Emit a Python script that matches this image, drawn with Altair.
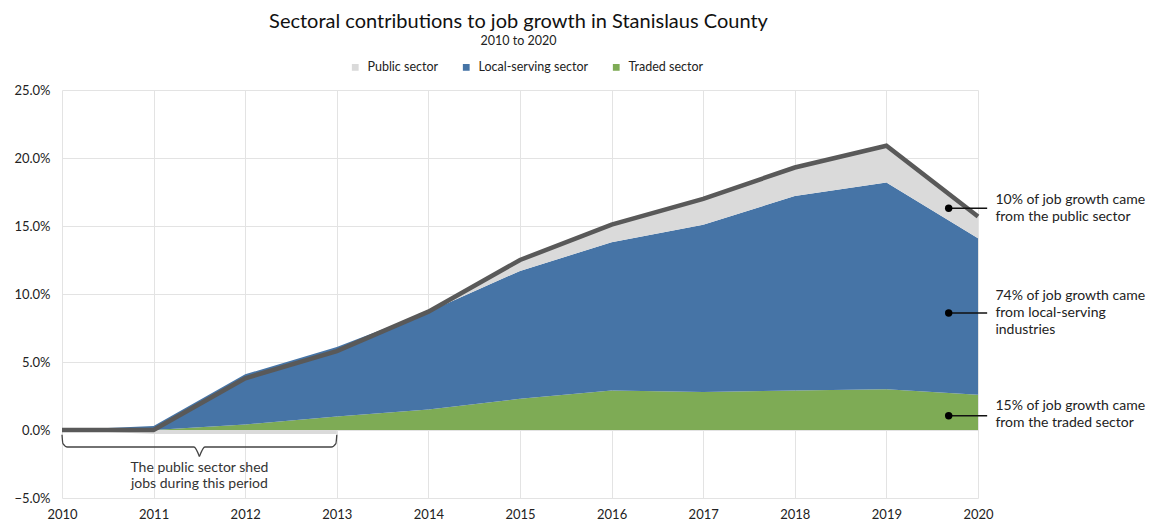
import altair as alt
import pandas as pd

# ---- data (percent job growth since 2010) ----
years = [2010, 2011, 2012, 2013, 2014, 2015, 2016, 2017, 2018, 2019, 2020]
traded = [0.0, 0.0, 0.4, 1.0, 1.5, 2.3, 2.9, 2.8, 2.9, 3.0, 2.6]
local_serving = [0.0, 0.3, 3.7, 5.1, 7.2, 9.4, 10.9, 12.3, 14.3, 15.2, 11.5]
public = [0.0, -0.3, -0.3, -0.3, 0.0, 0.8, 1.3, 1.9, 2.1, 2.7, 1.6]

sectors = ["Public sector", "Local-serving sector", "Traded sector"]
colors = ["#DADADA", "#4674A6", "#7EAB55"]

y_ticks = [-5, 0, 5, 10, 15, 20, 25]

title_text = "Sectoral contributions to job growth in Stanislaus County"
subtitle_text = "2010 to 2020"

note_years = [2019.68, 2019.68, 2019.68]
note_vals = [16.3, 8.6, 1.05]
note_label_vals = [16.9, 9.85, 1.76]
note_texts = [
    "10% of job growth came\nfrom the public sector",
    "74% of job growth came\nfrom local-serving\nindustries",
    "15% of job growth came\nfrom the traded sector",
]
brace_text = "The public sector shed\njobs during this period"
brace_x = [2010.0, 2010.01, 2010.06, 2011.44, 2011.5,
           2013.0, 2012.99, 2012.94, 2011.56, 2011.5]
brace_y = [-0.35, -1.0, -1.25, -1.25, -1.95,
           -0.35, -1.0, -1.25, -1.25, -1.95]
brace_seg = ["a"] * 5 + ["b"] * 5

FONT = "Lato"

# ---- build tables ----
rows = []
for i, yr in enumerate(years):
    t = traded[i]
    l = local_serving[i]
    p = public[i]
    rows.append(dict(year=yr, sector="Traded sector", part="t", lo=0.0, hi=t))
    rows.append(dict(year=yr, sector="Local-serving sector", part="l", lo=t, hi=t + l))
    rows.append(dict(year=yr, sector="Public sector", part="pp", lo=t + l, hi=t + l + max(p, 0.0)))
    if yr <= 2013:
        rows.append(dict(year=yr, sector="Public sector", part="pn", lo=0.0, hi=min(p, 0.0)))
areas = pd.DataFrame(rows)

totals = pd.DataFrame({
    "year": years,
    "total": [traded[i] + local_serving[i] + public[i] for i in range(len(years))],
})

notes = pd.DataFrame({"x": note_years, "y": note_vals, "ty": note_label_vals,
                      "text": note_texts,
                      "x2": [2020.1] * 3, "xt": [2020.19] * 3})
brace = pd.DataFrame({"x": brace_x, "y": brace_y, "seg": brace_seg,
                      "o": list(range(len(brace_x)))})
brace_label = pd.DataFrame({"x": [2011.5], "y": [-2.8], "text": [brace_text]})
titles = pd.DataFrame({"t": [title_text], "s": [subtitle_text]})

xscale = alt.Scale(domain=[2010, 2020], nice=False, zero=False)
yscale = alt.Scale(domain=[-5, 25], nice=False)

x_axis = alt.Axis(values=years, format="d", title=None, grid=True, ticks=False,
                  domain=False, labelPadding=10, labelFontSize=13, labelFont=FONT,
                  labelColor="#222222", gridColor="#E3E3E3", labelFlush=False,
                  labelOverlap=False)
y_axis = alt.Axis(values=y_ticks, title=None, grid=True, ticks=False, domain=False,
                  labelExpr="format(datum.value, '.1f') + '%'", labelPadding=12,
                  labelFontSize=13, labelFont=FONT, labelColor="#222222",
                  gridColor="#E3E3E3")

area = alt.Chart(areas).mark_area(opacity=1, interpolate="linear").encode(
    x=alt.X("year:Q", scale=xscale, axis=x_axis),
    y=alt.Y("lo:Q", scale=yscale, axis=y_axis),
    y2="hi:Q",
    color=alt.Color("sector:N",
                    scale=alt.Scale(domain=sectors, range=colors),
                    legend=alt.Legend(title=None, orient="none", direction="horizontal",
                                      legendX=287, legendY=-29, symbolType="square",
                                      symbolSize=46, symbolStrokeWidth=0,
                                      labelFont=FONT, labelFontSize=12.5,
                                      labelColor="#222222", columnPadding=21,
                                      symbolOffset=0, labelOffset=6)),
    detail="part:N",
)

line = alt.Chart(totals).mark_line(color="#595959", strokeWidth=4.5,
                                   strokeJoin="miter").encode(
    x=alt.X("year:Q", scale=xscale),
    y=alt.Y("total:Q", scale=yscale),
)

brace_line = alt.Chart(brace).mark_line(color="#444444", strokeWidth=1.3,
                                        interpolate="monotone").encode(
    x=alt.X("x:Q", scale=xscale),
    y=alt.Y("y:Q", scale=yscale),
    detail="seg:N",
    order="o:Q",
)

brace_txt = alt.Chart(brace_label).mark_text(font=FONT, fontSize=14, color="#333333",
                                             align="center", baseline="middle",
                                             lineBreak="\n", lineHeight=16).encode(
    x=alt.X("x:Q", scale=xscale),
    y=alt.Y("y:Q", scale=yscale),
    text="text:N",
)

note_rule = alt.Chart(notes).mark_rule(color="#111111", strokeWidth=1.6).encode(
    x=alt.X("x:Q", scale=xscale),
    x2="x2:Q",
    y=alt.Y("y:Q", scale=yscale),
)
note_dot = alt.Chart(notes).mark_circle(color="#000000", size=55, opacity=1).encode(
    x=alt.X("x:Q", scale=xscale),
    y=alt.Y("y:Q", scale=yscale),
)
note_txt = alt.Chart(notes).mark_text(font=FONT, fontSize=14, color="#222222",
                                      align="left", baseline="middle",
                                      lineBreak="\n", lineHeight=17).encode(
    x=alt.X("xt:Q", scale=xscale),
    y=alt.Y("ty:Q", scale=yscale),
    text="text:N",
)

title_mark = alt.Chart(titles).mark_text(font=FONT, fontSize=20, color="#111111",
                                         align="center", baseline="alphabetic").encode(
    x=alt.value(456.5), y=alt.value(-62), text="t:N")
subtitle_mark = alt.Chart(titles).mark_text(font=FONT, fontSize=12.5, color="#222222",
                                            align="center", baseline="alphabetic").encode(
    x=alt.value(456.5), y=alt.value(-45), text="s:N")

chart = alt.layer(
    area, line, brace_line, brace_txt, note_rule, note_dot, note_txt,
    title_mark, subtitle_mark,
).properties(
    width=916, height=408,
    autosize=alt.AutoSizeParams(type="none"),
    padding={"left": 54, "top": 82, "right": 171, "bottom": 24},
).configure_view(strokeWidth=0)

chart.save("out.html", embed_options={"renderer": "svg", "actions": False})
